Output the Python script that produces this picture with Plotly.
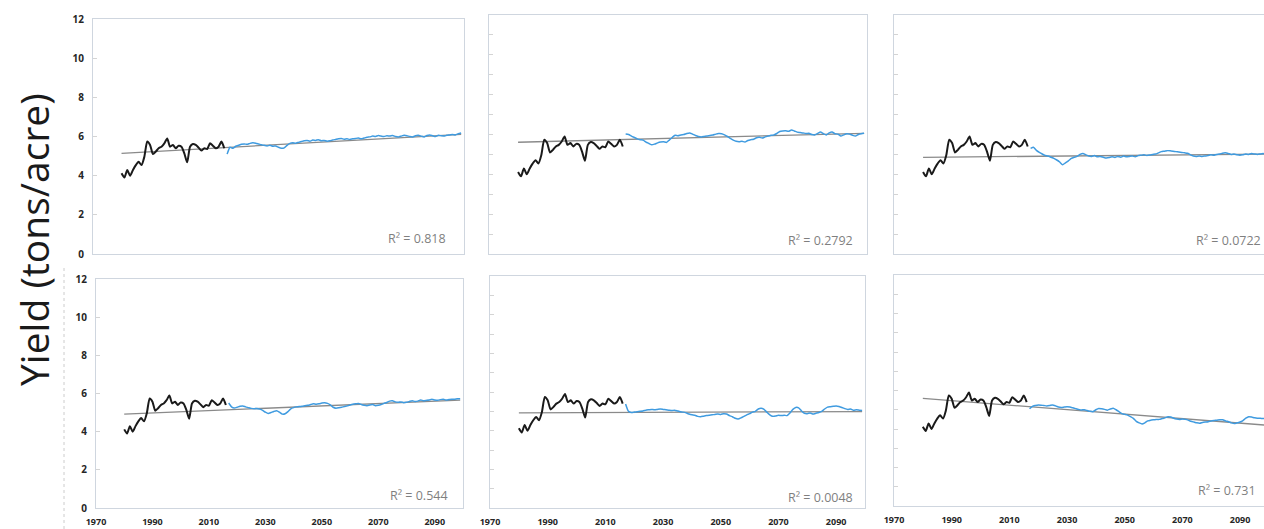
import plotly.graph_objects as go

W, H = 1264, 529

# ---------------- data ----------------
hist_years = list(range(1980, 2017))
hist_yield = [4.12, 3.90, 4.29, 4.00, 4.29, 4.54, 4.71, 4.54, 4.97, 5.74,
              5.57, 5.10, 5.23, 5.40, 5.48, 5.65, 5.90, 5.48, 5.57, 5.40,
              5.53, 5.48, 5.14, 4.68, 5.48, 5.62, 5.57, 5.43, 5.28, 5.40,
              5.36, 5.65, 5.53, 5.40, 5.48, 5.74, 5.40]

proj_years = list(range(2017, 2100))
proj_1 = [5.10, 5.45, 5.40, 5.50, 5.55, 5.60, 5.62, 5.60, 5.65, 5.68,
          5.66, 5.62, 5.58, 5.55, 5.52, 5.55, 5.50, 5.52, 5.45, 5.40,
          5.42, 5.55, 5.65, 5.68, 5.66, 5.70, 5.74, 5.78, 5.80, 5.76,
          5.82, 5.80, 5.84, 5.78, 5.80, 5.76, 5.78, 5.82, 5.85, 5.88,
          5.90, 5.86, 5.88, 5.85, 5.88, 5.90, 5.92, 5.88, 5.92, 5.96,
          5.98, 6.02, 6.00, 6.05, 6.02, 6.00, 6.04, 6.02, 6.05, 6.00,
          5.98, 6.02, 6.06, 6.04, 6.00, 5.98, 6.04, 6.06, 6.02, 5.98,
          6.05, 6.08, 6.04, 6.00, 6.06, 6.04, 6.02, 6.06, 6.08, 6.10,
          6.08, 6.14, 6.18]
proj_2 = [6.02, 6.00, 5.92, 5.85, 5.78, 5.74, 5.72, 5.62, 5.55, 5.48,
          5.52, 5.58, 5.62, 5.64, 5.60, 5.72, 5.85, 5.96, 5.94, 5.98,
          6.00, 6.05, 6.08, 6.02, 5.95, 5.90, 5.88, 5.90, 5.92, 5.95,
          5.97, 6.02, 6.05, 6.04, 5.98, 5.90, 5.80, 5.72, 5.66, 5.64,
          5.66, 5.62, 5.70, 5.74, 5.76, 5.84, 5.86, 5.82, 5.88, 5.92,
          5.96, 5.98, 6.05, 6.15, 6.18, 6.19, 6.16, 6.22, 6.18, 6.12,
          6.10, 6.08, 6.05, 6.06, 6.00, 5.98, 6.05, 6.12, 6.04, 5.98,
          6.08, 6.12, 6.04, 6.02, 5.92, 5.98, 6.04, 6.02, 5.96, 5.92,
          6.00, 6.04, 6.06]
proj_3 = [5.30, 5.36, 5.20, 5.10, 5.02, 4.95, 4.92, 4.86, 4.80, 4.72,
          4.62, 4.48, 4.58, 4.68, 4.80, 4.86, 4.90, 5.00, 5.05, 4.98,
          4.92, 4.90, 4.94, 4.88, 4.90, 4.86, 4.82, 4.84, 4.88, 4.85,
          4.90, 4.86, 4.92, 4.88, 4.90, 4.92, 4.88, 4.94, 4.96, 4.98,
          4.95, 4.97, 5.00, 5.02, 5.08, 5.14, 5.16, 5.19, 5.18, 5.16,
          5.14, 5.12, 5.10, 5.08, 5.06, 4.98, 4.92, 4.90, 4.92, 4.90,
          4.92, 4.94, 4.98, 4.96, 5.00, 5.02, 5.06, 5.08, 5.05, 5.00,
          5.02, 4.98, 4.96, 4.98, 5.02, 5.00, 5.04, 5.02, 5.00, 5.02,
          5.04, 5.02, 5.04]
proj_4 = [5.50, 5.30, 5.24, 5.28, 5.33, 5.35, 5.30, 5.26, 5.22, 5.20,
          5.22, 5.18, 5.12, 5.02, 4.95, 5.00, 5.06, 5.10, 5.02, 4.92,
          4.94, 5.05, 5.20, 5.26, 5.30, 5.32, 5.33, 5.36, 5.38, 5.42,
          5.46, 5.44, 5.46, 5.50, 5.52, 5.48, 5.40, 5.28, 5.23, 5.25,
          5.28, 5.32, 5.35, 5.40, 5.44, 5.46, 5.48, 5.42, 5.38, 5.36,
          5.40, 5.42, 5.36, 5.38, 5.42, 5.48, 5.53, 5.60, 5.62, 5.56,
          5.54, 5.56, 5.52, 5.54, 5.58, 5.62, 5.58, 5.60, 5.66, 5.62,
          5.64, 5.66, 5.70, 5.66, 5.64, 5.68, 5.70, 5.66, 5.68, 5.70,
          5.70, 5.72, 5.72]
proj_5 = [5.38, 5.00, 4.94, 4.96, 4.98, 5.00, 5.02, 5.06, 5.08, 5.10,
          5.08, 5.10, 5.12, 5.10, 5.08, 5.06, 5.04, 5.06, 5.02, 4.98,
          4.96, 4.92, 4.86, 4.82, 4.80, 4.74, 4.72, 4.75, 4.78, 4.80,
          4.82, 4.84, 4.86, 4.84, 4.88, 4.86, 4.78, 4.72, 4.64, 4.60,
          4.66, 4.74, 4.82, 4.88, 4.96, 5.00, 5.12, 5.16, 5.10, 4.95,
          4.82, 4.74, 4.76, 4.80, 4.78, 4.80, 4.78, 4.92, 5.10, 5.20,
          5.18, 5.02, 4.90, 4.88, 4.92, 4.86, 4.90, 4.94, 5.00, 5.12,
          5.22, 5.24, 5.26, 5.28, 5.25, 5.20, 5.14, 5.10, 5.12, 5.06,
          5.08, 5.06, 5.04]
proj_6 = [5.05, 5.18, 5.22, 5.25, 5.24, 5.22, 5.20, 5.22, 5.25, 5.20,
          5.14, 5.12, 5.14, 5.16, 5.14, 5.10, 5.06, 5.02, 4.99, 5.00,
          4.96, 4.92, 4.90, 5.00, 5.07, 5.05, 5.02, 4.98, 5.04, 5.08,
          5.00, 4.90, 4.80, 4.76, 4.72, 4.64, 4.55, 4.40, 4.32, 4.26,
          4.32, 4.42, 4.46, 4.48, 4.50, 4.50, 4.54, 4.58, 4.64, 4.62,
          4.56, 4.52, 4.50, 4.52, 4.50, 4.46, 4.40, 4.36, 4.32, 4.30,
          4.34, 4.36, 4.38, 4.42, 4.44, 4.46, 4.48, 4.48, 4.42, 4.38,
          4.32, 4.28, 4.32, 4.36, 4.44, 4.56, 4.64, 4.62, 4.58, 4.56,
          4.56, 4.54, 4.55]

trend_years = [1980, 2099]
trend_1 = [5.14, 6.11]
trend_2 = [5.61, 6.06]
trend_3 = [4.85, 5.02]
trend_4 = [4.92, 5.65]
trend_5 = [4.92, 4.99]
trend_6 = [5.59, 4.20]

r2_labels = ["R² = 0.818", "R² = 0.2792", "R² = 0.0722",
             "R² = 0.544", "R² = 0.0048", "R² = 0.731"]

x_tick_vals = [1970, 1990, 2010, 2030, 2050, 2070, 2090]
y_title = "Yield (tons/acre)"

projections = [proj_1, proj_2, proj_3, proj_4, proj_5, proj_6]
trends = [trend_1, trend_2, trend_3, trend_4, trend_5, trend_6]

# ---------------- layout geometry (pixels) ----------------
# (left, right, top, bottom, x_max)
panels = [
    (93, 464, 19, 254, 2100),
    (489, 867, 15, 254, 2100),
    (894, 1264, 15, 254, 2097.3),
    (96, 463, 279, 508, 2100),
    (490, 865, 276, 508, 2100),
    (894, 1264, 275, 506, 2098.3),
]
r2_pos = [(448, 238), (855, 240), (1263, 240), (450, 495), (855, 497), (1258, 490)]

BLACK = "#1a1a1a"
BLUE = "#3f9be0"
TREND = "#8a8a8a"
FRAME = "#cfd6df"
TICKC = "#d4d4d4"
LABEL = "#262626"

fig = go.Figure()
layout = dict(
    width=W, height=H,
    margin=dict(l=0, r=0, t=0, b=0, autoexpand=False),
    paper_bgcolor="white", plot_bgcolor="white",
    showlegend=False,
    annotations=[], shapes=[],
)

for i, (l, r, t, b, xmax) in enumerate(panels):
    n = i + 1
    xa = "x" if n == 1 else f"x{n}"
    ya = "y" if n == 1 else f"y{n}"
    xkey = "xaxis" if n == 1 else f"xaxis{n}"
    ykey = "yaxis" if n == 1 else f"yaxis{n}"

    fig.add_trace(go.Scatter(x=trend_years, y=trends[i], mode="lines",
                             line=dict(color=TREND, width=1.3),
                             xaxis=xa, yaxis=ya, hoverinfo="skip"))
    fig.add_trace(go.Scatter(x=hist_years, y=hist_yield, mode="lines",
                             line=dict(color=BLACK, width=2.0, shape="spline", smoothing=0.6),
                             xaxis=xa, yaxis=ya))
    fig.add_trace(go.Scatter(x=proj_years, y=projections[i], mode="lines",
                             line=dict(color=BLUE, width=1.5, shape="spline", smoothing=0.5),
                             xaxis=xa, yaxis=ya))

    bottom_row = n >= 4
    left_col = n in (1, 4)
    right_cut = n in (3, 6)

    layout[xkey] = dict(
        domain=[l / W, min(r / W, 1.0)],
        range=[1970, xmax],
        anchor=ya,
        automargin=False,
        showgrid=False, zeroline=False,
        showline=True, linecolor=FRAME, linewidth=1, mirror=True,
        tickmode="array", tickvals=x_tick_vals,
        ticktext=[str(v) for v in x_tick_vals],
        showticklabels=bottom_row,
        ticks="",
        ticklabelstandoff=5,
        tickfont=dict(family="Open Sans", size=9, color=LABEL, weight="bold"),
    )
    layout[ykey] = dict(
        domain=[1 - b / H, 1 - t / H],
        range=[0, 12],
        anchor=xa,
        automargin=False,
        showgrid=False, zeroline=False,
        showline=True, linecolor=FRAME, linewidth=1, mirror=not right_cut,
        tickmode="linear", tick0=0, dtick=2 if left_col else 1,
        showticklabels=left_col,
        ticks="inside", ticklen=4, tickcolor=TICKC, tickwidth=1,
        ticklabelstandoff=6,
        tickfont=dict(family="Open Sans", size=10, color=LABEL, weight="bold"),
    )

    rx, ry = r2_pos[i]
    layout["annotations"].append(dict(
        text=r2_labels[i], xref="paper", yref="paper",
        x=rx / W, y=1 - ry / H, xanchor="right", yanchor="middle",
        showarrow=False,
        font=dict(family="Open Sans", size=12.5, color="#7f7f7f"),
    ))

layout["annotations"].append(dict(
    text=y_title, xref="paper", yref="paper",
    x=33 / W, y=1 - 240 / H, xanchor="center", yanchor="middle",
    textangle=-90, showarrow=False,
    font=dict(family="Open Sans", size=39, color="#1a1a1a"),
))

layout["shapes"].append(dict(
    type="line", xref="paper", yref="paper",
    x0=64 / W, x1=64 / W, y0=0, y1=1 - 266 / H,
    line=dict(color="#cccccc", width=1, dash="dot"),
))

fig.update_layout(**layout)
fig.write_html(
    "out.html",
    config={"displayModeBar": False},
    post_script="document.body.style.margin='0';document.body.style.overflow='hidden';",
)
